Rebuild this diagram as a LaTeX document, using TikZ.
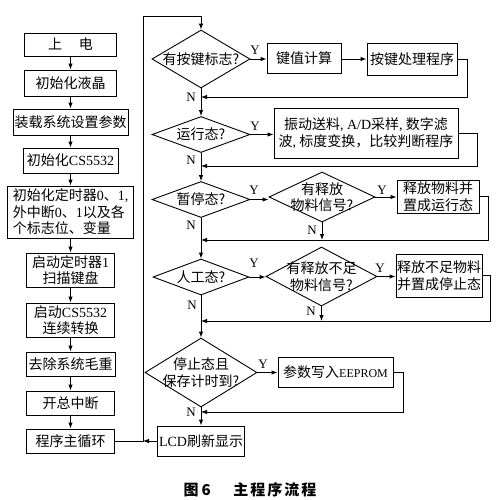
\documentclass[tikz,border=0pt]{standalone}
\usepackage{fontspec}
\setmainfont{Noto Sans CJK SC}
\newfontfamily\latf{Liberation Serif}
\usetikzlibrary{shapes.geometric,arrows.meta}
\newcommand\lt[1]{{\latf #1}}
\begin{document}
\begin{tikzpicture}[x=1pt,y=-1pt, line width=0.9pt,
  >={Latex[length=6pt,width=4.5pt]},
  box/.style={draw, inner sep=1pt, align=center, font=\fontsize{14}{16.5}\selectfont},
  dia/.style={draw, diamond, inner sep=0pt},
  dtext/.style={align=center, inner sep=0pt, font=\fontsize{14}{16.5}\selectfont},
  lab/.style={font=\latf\fontsize{13}{13}\selectfont, inner sep=0pt},
]
\useasboundingbox (0,0) rectangle (500,499);
% left column
\node[box, minimum width=92, minimum height=23] (b1) at (70.5,44.5) {上\hspace{1.2em}电};
\node[box, minimum width=92, minimum height=26] (b2) at (70.5,83) {初始化液晶};
\node[box, minimum width=115, minimum height=26] (b3) at (70.5,122) {装载系统设置参数};
\node[box, minimum width=95, minimum height=25] (b4) at (70.5,160.5) {初始化\lt{CS5532}};
\node[box, minimum width=126, minimum height=52, align=left] (b5) at (70.5,212) {初始化定时器\lt{0}、\lt{1,}\\外中断\lt{0}、\lt{1}以及各\\个标志位、变量};
\node[box, minimum width=88, minimum height=34] (b6) at (70.5,270) {启动定时器\lt{1}\\扫描键盘};
\node[box, minimum width=88, minimum height=34] (b7) at (70.5,320) {启动\lt{CS5532}\\连续转换};
\node[box, minimum width=89, minimum height=24] (b8) at (70.5,364) {去除系统毛重};
\node[box, minimum width=88, minimum height=24] (b9) at (70.5,403) {开总中断};
\node[box, minimum width=88, minimum height=24] (b10) at (70.5,441) {程序主循环};
\foreach \a/\b in {b1/b2,b2/b3,b3/b4,b4/b5,b5/b6,b6/b7,b7/b8,b8/b9,b9/b10}
  \draw[->] (\a.south) -- (\b.north);
% center column diamonds
\node[dia, minimum width=98, minimum height=58] (d1) at (201,59) {};
\node[dtext] (d1t) at (d1) {有按键标志?};
\node[dia, minimum width=98, minimum height=36] (d2) at (201,134.5) {};
\node[dtext] (d2t) at (d2) {运行态?};
\node[dia, minimum width=98, minimum height=36] (d3) at (201,199.5) {};
\node[dtext] (d3t) at (d3) {暂停态?};
\node[dia, minimum width=96, minimum height=36] (d4) at (201,277) {};
\node[dtext] (d4t) at (d4) {人工态?};
\node[dia, minimum width=112, minimum height=69] (d5) at (201,372.5) {};
\node[dtext] (d5t) at (d5) {停止态且\\保存计时到?};
\node[box, minimum width=87, minimum height=30] (lcd) at (201,441) {\lt{LCD}刷新显示};
% loop
\coordinate (lp) at (143,441);
\coordinate (tp) at (143,16);
\draw[->] (b10.east) -- (lp) -- (tp) -| (d1.north);
\draw[->] (lcd.west) -- (lp);
% junctions
\coordinate (j1) at (201,97);
\coordinate (j2) at (201,166);
\coordinate (j3) at (201,240);
\coordinate (j4) at (201,321);
\coordinate (j5) at (201,412);
\draw[->] (d1.south) -- (d2.north);
\draw[->] (d2.south) -- (d3.north);
\draw[->] (d3.south) -- (d4.north);
\draw[->] (d4.south) -- (d5.north);
\draw[->] (d5.south) -- (lcd.north);
% right side
\node[box, minimum width=74, minimum height=30] (r1) at (304,58.5) {键值计算};
\node[box, minimum width=90, minimum height=32] (r1b) at (412,59) {按键处理程序};
\node[box, minimum width=184, minimum height=50] (r2) at (366,133) {振动送料\lt{, A/D}采样\lt{,} 数字滤\\波\lt{,} 标度变换，比较判断程序};
\node[dia, minimum width=106, minimum height=50] (s3) at (322,197) {};
\node[dtext] (s3t) at (s3) {有释放\\物料信号?};
\node[box, minimum width=82, minimum height=33] (r3) at (438,196.5) {释放物料并\\置成运行态};
\node[dia, minimum width=111, minimum height=59] (s4) at (321.5,276.5) {};
\node[dtext] (s4t) at (s4) {有释放不足\\物料信号?};
\node[box, minimum width=86, minimum height=43] (r4) at (439,275.5) {释放不足物料\\并置成停止态};
\node[box, minimum width=115, minimum height=30] (r5) at (335.5,372.5) {参数写入{\latf\fontsize{12}{14}\selectfont EEPROM}};
% Y arrows
\draw[->] (d1.east) -- (r1.west |- d1.east);
\draw[->] (r1.east |- r1b.west) -- (r1b.west);
\draw[->] (d2.east) -- (r2.west |- d2.east);
\draw[->] (d3.east) -- (s3.west |- d3.east);
\draw[->] (s3.east) -- (r3.west |- s3.east);
\draw[->] (d4.east) -- (s4.west |- d4.east);
\draw[->] (s4.east) -- (r4.west |- s4.east);
\draw[->] (d5.east) -- (r5.west |- d5.east);
% returns
\draw[->] (r1b.east) -- ++(10,0) |- (j1);
\draw[->] (r2.east) -- ++(19,0) |- (j2);
\draw[->] (r3.east) -- ++(9,0) |- (j3);
\draw[->] (s3.south) -- (s3.south |- j3);
\draw[->] (r4.east) -- ++(8,0) |- (j4);
\draw[->] (s4.south) -- (s4.south |- j4);
\draw[->] (r5.east) -- ++(10,0) |- (j5);
% labels
\node[lab] (y1) at (255,50) {Y};
\node[lab] (y2) at (255,126) {Y};
\node[lab] (y3) at (254,190) {Y};
\node[lab] (y3b) at (382,190) {Y};
\node[lab] (y4) at (254,263) {Y};
\node[lab] (y4b) at (380,268) {Y};
\node[lab] (y5) at (263,364) {Y};
\node[lab] (n1) at (191,97) {N};
\node[lab] (n2) at (191,160) {N};
\node[lab] (n3) at (191,225) {N};
\node[lab] (n4) at (192,305) {N};
\node[lab] (n5) at (191,412) {N};
\node[lab] (n3b) at (312,230) {N};
\node[lab] (n4b) at (311,311) {N};
% caption
\node (cap) at (250,490) {\fontsize{15}{15}\selectfont\bfseries 图\hspace{3pt}6\hspace{1.5em}主\hspace{2pt}程\hspace{2pt}序\hspace{2pt}流\hspace{2pt}程};
\end{tikzpicture}
\end{document}
